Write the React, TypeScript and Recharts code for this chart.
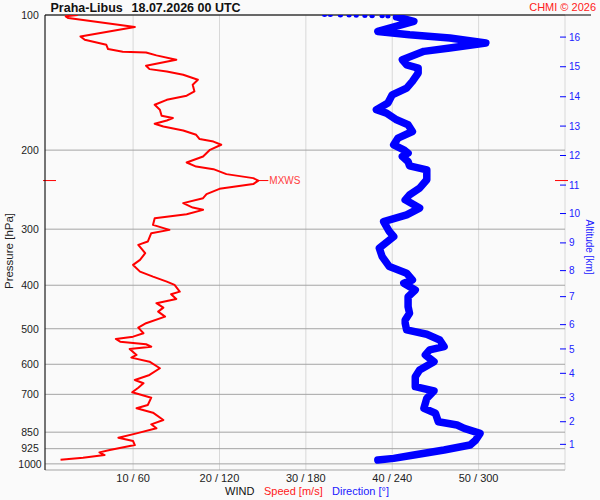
import { ScatterChart, Scatter, XAxis, YAxis, CartesianGrid, ReferenceLine, ReferenceDot } from 'recharts';

const FONT = '"Liberation Sans", Arial, sans-serif';

// axis ticks
const pressureTicks = [100, 200, 300, 400, 500, 600, 700, 850, 925, 1000];
const windTicks = [10, 20, 30, 40, 50, 60];
const altitudeKm = [1, 2, 3, 4, 5, 6, 7, 8, 9, 10, 11, 12, 13, 14, 15, 16];
const altitudePressure = [904.8, 805.6, 712.3, 628.5, 554.6, 489.6, 424.1, 371.1, 321.9, 276.9, 239.3, 205.6, 176.8, 152.1, 130.4, 112.0];

// max wind level (MXWS)
const maxWind = { p: 233.8, speed: 24.5 };

// [pressure hPa, speed m/s]
const speedProfile: [number, number][] = [
    [100, 3.6], [100.7, 2.2], [101.6, 2.5], [106.4, 10.2], [111.6, 3.9], [113.5, 4.4], [116.5, 6.9],
    [119.1, 7.1], [120.7, 8.8], [121.2, 11.5], [123.0, 12.7], [125.8, 15.0], [129.7, 11.5], [132.0, 11.9],
    [133.6, 13.9], [135.9, 15.8], [139.4, 17.5], [143.0, 16.9], [148.0, 17.1], [151.3, 16.2], [154.5, 13.9],
    [158.5, 12.5], [162.6, 13.1], [167.7, 13.3], [169.7, 14.6], [171.8, 13.9], [174.7, 12.5], [177.2, 13.5],
    [180.8, 15.8], [184.9, 17.3], [189.0, 17.7], [191.4, 19.3], [194.6, 20.2], [199.7, 18.9], [206.7, 18.1],
    [213.1, 16.2], [217.6, 17.3], [220.5, 19.3], [226.2, 20.8], [230.9, 23.9], [233.8, 24.5], [238.1, 23.9],
    [243.9, 20.0], [250.7, 18.5], [255.9, 18.1], [262.5, 15.8], [268.5, 16.9], [271.7, 18.1], [277.8, 16.2],
    [283.5, 12.5], [293.5, 12.3], [301.1, 14.2], [306.2, 12.1], [319.7, 11.7], [325.2, 10.6], [339.4, 11.4],
    [351.2, 10.8], [360.4, 10.0], [373.0, 10.8], [382.7, 12.3], [392.6, 13.9], [399.3, 14.8], [413.3, 15.4],
    [418.9, 14.4], [429.1, 15.0], [438.6, 12.7], [448.7, 13.5], [458.0, 12.9], [469.9, 13.7], [486.0, 11.5],
    [497.2, 10.6], [511.7, 11.2], [520.7, 10.0], [526.8, 8.0], [534.2, 8.5], [541.4, 11.5], [548.1, 12.1],
    [554.6, 9.6], [572.0, 10.4], [579.9, 9.8], [592.0, 11.9], [612.4, 13.1], [633.8, 11.9], [650.3, 10.2],
    [661.4, 11.2], [676.5, 10.6], [692.7, 9.9], [712.1, 12.1], [739.3, 11.7], [752.0, 10.4], [769.1, 12.3],
    [798.5, 13.5], [816.4, 12.1], [833.3, 12.7], [855.1, 10.4], [874.6, 8.3], [889.6, 10.0], [908.0, 10.2],
    [931.6, 7.3], [942.7, 6.1], [955.8, 6.7], [969.2, 4.2], [979.2, 1.6],
];

// [pressure hPa, direction deg]
const directionProfile: [number, number][] = [
    [101.0, 243], [103.3, 255], [108.8, 230], [110.7, 252], [112.5, 280], [115.4, 305], [118.4, 280],
    [120.5, 262], [125.8, 247], [129.1, 250], [131.3, 258], [134.7, 258], [140.6, 254], [145.5, 250],
    [150.6, 240], [157.1, 237], [162.6, 229], [165.4, 236], [171.2, 243], [175.6, 251], [181.8, 254],
    [188.1, 244], [194.6, 241], [199.7, 248], [203.1, 251], [206.7, 247], [212.1, 251], [216.8, 252],
    [221.3, 264], [232.9, 264], [243.1, 259], [251.6, 252], [258.1, 249], [269.3, 259], [278.8, 250],
    [288.5, 234], [303.7, 238], [311.6, 241], [330.7, 231], [345.4, 233], [363.5, 238], [376.1, 250],
    [389.2, 254], [395.9, 248], [409.7, 256], [424.1, 251], [446.4, 251], [461.7, 252], [477.9, 249],
    [486.0, 249], [503.1, 250], [514.3, 264], [529.6, 273], [548.1, 276], [557.4, 266], [572.0, 263],
    [592.0, 269], [617.7, 259], [639.4, 256], [673.0, 256], [688.1, 269], [714.3, 264], [752.0, 262],
    [771.5, 270], [805.5, 272], [819.3, 285], [833.3, 290], [855.1, 301], [885.0, 298], [908.0, 294],
    [931.6, 276], [955.8, 255], [972.2, 241], [980.7, 230],
];

// sparse direction reports at the top of the sounding
const directionTopDots: [number, number][] = [
    [100, 193], [100, 197], [100.2, 204], [100.3, 210], [100.4, 215], [100.5, 221], [100.6, 226], [100.7, 233], [100.8, 237],
];

const speedData = speedProfile.map(([p, v]) => ({ p, v }));
const directionData = directionProfile.map(([p, d]) => ({ p, v: d / 6 }));
const topDotData = directionTopDots.map(([p, d]) => ({ p, v: d / 6 }));

const NoDot = () => null;

function PressureTick({ x, y, payload }: any) {
    return (
        <text x={x - 15} y={y} dy="0.36em" textAnchor="middle" fontSize={10.5} fill="#222" fontFamily={FONT}>
            {payload.value}
        </text>
    );
}

function WindTick({ x, payload }: any) {
    if (payload.value >= 60) return <g />;
    return (
        <text x={x} y={482} textAnchor="middle" fontSize={11} fill="#222" fontFamily={FONT}>
            {`${payload.value} / ${payload.value * 6}`}
        </text>
    );
}

function AltitudeTick({ x, y, payload }: any) {
    const i = altitudePressure.indexOf(payload.value);
    return (
        <g>
            <line x1={x - 5} y1={y} x2={x + 1} y2={y} stroke="#0000ff" />
            <text x={x + 4} y={y} dy="0.36em" fontSize={10} fill="#2020ff" fontFamily={FONT}>
                {altitudeKm[i]}
            </text>
        </g>
    );
}

export default function App() {
    return (
        <div style={{ position: 'absolute', left: 0, top: 0, width: 600, height: 500, background: '#fafafa' }}>
            <ScatterChart width={600} height={500} margin={{ top: 15, right: 0, bottom: 0, left: 0 }}>
                <CartesianGrid horizontal={false} stroke="#d8d8d8" />
                <CartesianGrid vertical={false} stroke="#a4a4a4" />
                <XAxis
                    type="number"
                    dataKey="v"
                    domain={[-0.2, 60]}
                    ticks={windTicks}
                    interval={0}
                    allowDataOverflow
                    height={30}
                    axisLine={false}
                    tickLine={false}
                    tick={<WindTick />}
                />
                <YAxis
                    type="number"
                    dataKey="p"
                    scale="log"
                    domain={[100, 1032]}
                    reversed
                    allowDataOverflow
                    ticks={pressureTicks}
                    interval={0}
                    width={45}
                    tickSize={0}
                    tickMargin={0}
                    tickLine={false}
                    axisLine={{ stroke: '#000' }}
                    tick={<PressureTick />}
                />
                <YAxis
                    yAxisId="alt"
                    orientation="right"
                    type="number"
                    dataKey="p"
                    scale="log"
                    domain={[100, 1032]}
                    reversed
                    allowDataOverflow
                    ticks={altitudePressure}
                    interval={0}
                    width={35}
                    tickSize={0}
                    tickMargin={0}
                    tickLine={false}
                    axisLine={false}
                    tick={<AltitudeTick />}
                />
                <ReferenceLine
                    y={100}
                    shape={(props: any) => (
                        <line x1={props.x1} y1={props.y1} x2={props.x2 + 26} y2={props.y2} stroke="#000" />
                    )}
                />
                <Scatter
                    data={directionData}
                    line={{ stroke: '#0000ff', strokeWidth: 7.5, strokeLinejoin: 'round', strokeLinecap: 'round' }}
                    fill="#0000ff"
                    shape={NoDot}
                    isAnimationActive={false}
                />
                <Scatter
                    yAxisId="alt"
                    data={topDotData}
                    fill="#0000ff"
                    shape={(props: any) => <ellipse cx={props.cx} cy={props.cy} rx={2.6} ry={2} fill="#0000ff" />}
                    isAnimationActive={false}
                />
                <Scatter
                    data={speedData}
                    line={{ stroke: '#ff0000', strokeWidth: 2, strokeLinejoin: 'round' }}
                    fill="#ff0000"
                    shape={NoDot}
                    isAnimationActive={false}
                />
                <ReferenceLine
                    y={maxWind.p}
                    shape={(props: any) => (
                        <g>
                            <line x1={props.x1 - 2} y1={props.y1} x2={props.x1 + 11} y2={props.y1} stroke="#ff0000" />
                            <line x1={props.x2 - 10} y1={props.y1} x2={props.x2 + 3} y2={props.y1} stroke="#ff0000" />
                        </g>
                    )}
                />
                <ReferenceDot
                    x={maxWind.speed}
                    y={maxWind.p}
                    shape={(props: any) => (
                        <g>
                            <line x1={props.cx - 2} y1={props.cy} x2={props.cx + 10} y2={props.cy} stroke="#ff0000" />
                            <text x={props.cx + 11} y={props.cy} dy="0.36em" fontSize={10} fill="#ff4040" fontFamily={FONT}>
                                MXWS
                            </text>
                        </g>
                    )}
                />
            </ScatterChart>
            <svg width={600} height={500} style={{ position: 'absolute', left: 0, top: 0, pointerEvents: 'none' }} fontFamily={FONT}>
                <text x={50.5} y={11.5} fontSize={12.5} fontWeight="bold" fill="#111">Praha-Libus</text>
                <text x={131.5} y={11.5} fontSize={12.5} fontWeight="bold" fill="#111">18.07.2026 00 UTC</text>
                <text x={596} y={11} fontSize={11} fill="#ff2020" textAnchor="end">CHMI © 2026</text>
                <text x={13} y={251} fontSize={11.5} fill="#222" textAnchor="middle" transform="rotate(-90 13 251)">
                    Pressure [hPa]
                </text>
                <text x={585.5} y={247} fontSize={10} fill="#2020ff" textAnchor="middle" transform="rotate(90 585.5 247)">
                    Altitude [km]
                </text>
                <text x={225} y={494.5} fontSize={11} fill="#111">WIND</text>
                <text x={264} y={494.5} fontSize={11} fill="#ff2020">Speed [m/s]</text>
                <text x={332} y={494.5} fontSize={11} fill="#2020ff">Direction [°]</text>
            </svg>
        </div>
    );
}
